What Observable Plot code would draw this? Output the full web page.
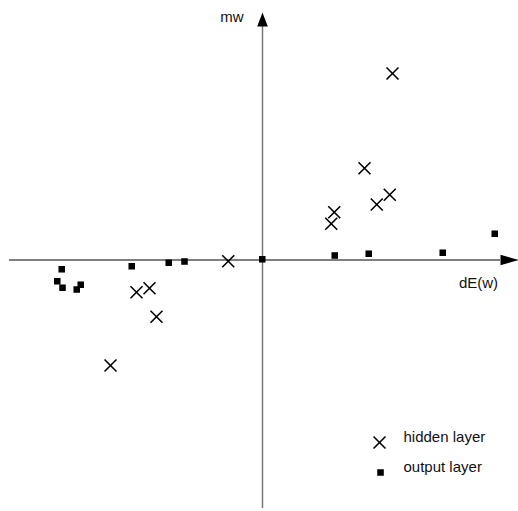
<!DOCTYPE html>
<html><head><meta charset="utf-8">
<script src="https://cdn.jsdelivr.net/npm/d3@7"></script>
<script src="https://cdn.jsdelivr.net/npm/@observablehq/plot@0.6"></script>
<style>html,body{margin:0;padding:0;background:#fff;}</style>
</head><body><div id="chart"></div>
<script>
// hidden layer points (dE(w), mw)
const hiddenX = [-6.08, -5.04, -4.52, -4.24, -1.37, 2.75, 2.87, 4.08, 4.57, 5.09, 5.20];
const hiddenY = [-4.22, -1.29, -1.13, -2.27, -0.05, 1.45, 1.91, 3.67, 2.22, 2.61, 7.46];
// output layer points
const outputX = [-8.21, -8.03, -8.00, -7.43, -7.27, -5.23, -3.75, -3.12, -0.01, 2.89, 4.25, 7.21, 9.29];
const outputY = [-0.85, -0.37, -1.11, -1.18, -0.99, -0.25, -0.11, -0.06, 0.03, 0.18, 0.25, 0.29, 1.05];
const seriesNames = ["hidden layer", "output layer"];
const axisLabels = {x: "dE(w)", y: "mw"};
const xExtent = [-10.12, 9.52];
const yExtent = [-9.94, 9.34];

const hidden = hiddenX.map((x, i) => ({x, y: hiddenY[i]}));
const output = outputX.map((x, i) => ({x, y: outputY[i]}));

const arrowRight = {draw(ctx) { ctx.moveTo(0, -5.2); ctx.lineTo(18, 0); ctx.lineTo(0, 5.2); ctx.closePath(); }};
const arrowUp = {draw(ctx) { ctx.moveTo(-5.3, 0); ctx.lineTo(0, -14); ctx.lineTo(5.3, 0); ctx.closePath(); }};

const font = "'Liberation Sans', Arial, sans-serif";
const legend = seriesNames.map((name, i) => ({name, i}));
const crossR = 5.5, squareR = 3.7;

const chart = Plot.plot({
  width: 518,
  height: 511,
  margin: 0,
  style: {fontFamily: font, fontSize: "15px", background: "#fff", color: "#000"},
  x: {domain: [-262/25, 256/25], axis: null},
  y: {domain: [(259.5-511)/25, 259.5/25], axis: null},
  marks: [
    Plot.ruleY([0], {x1: xExtent[0], x2: xExtent[1], stroke: "#000", strokeWidth: 1.2}),
    Plot.ruleX([0], {y1: yExtent[0], y2: yExtent[1], stroke: "#777", strokeWidth: 1.5}),
    Plot.dot([0], {x: xExtent[1], y: 0, symbol: arrowRight, fill: "#000", stroke: "none"}),
    Plot.dot([0], {x: 0, y: yExtent[1], symbol: arrowUp, fill: "#000", stroke: "none"}),
    Plot.text([axisLabels.y], {x: 0, y: yExtent[1], text: d => d, dx: -19, dy: -9, textAnchor: "end", fontSize: 15, fill: "#111"}),
    Plot.text([axisLabels.x], {x: xExtent[1], y: 0, text: d => d, dx: -22, dy: 23, textAnchor: "middle", fontSize: 15, fill: "#111"}),
    Plot.dot(output, {x: "x", y: "y", symbol: "square", r: squareR, fill: "#000", stroke: "none"}),
    Plot.dot(hidden, {x: "x", y: "y", symbol: "times", r: crossR, stroke: "#000", strokeWidth: 1.6, fill: "none"}),
    // legend
    Plot.dot([legend[0]], {frameAnchor: "bottom-right", dx: -139, dy: -69, symbol: "times", r: crossR, stroke: "#000", strokeWidth: 1.6, fill: "none"}),
    Plot.dot([legend[1]], {frameAnchor: "bottom-right", dx: -138, dy: -39, symbol: "square", r: squareR, fill: "#000", stroke: "none"}),
    Plot.text([legend[0]], {frameAnchor: "bottom-right", text: "name", dx: -115, dy: -70, textAnchor: "start", fontSize: 15, fill: "#111"}),
    Plot.text([legend[1]], {frameAnchor: "bottom-right", text: "name", dx: -115, dy: -40, textAnchor: "start", fontSize: 15, fill: "#111"})
  ]
});
document.getElementById("chart").appendChild(chart);
</script>
</body></html>
